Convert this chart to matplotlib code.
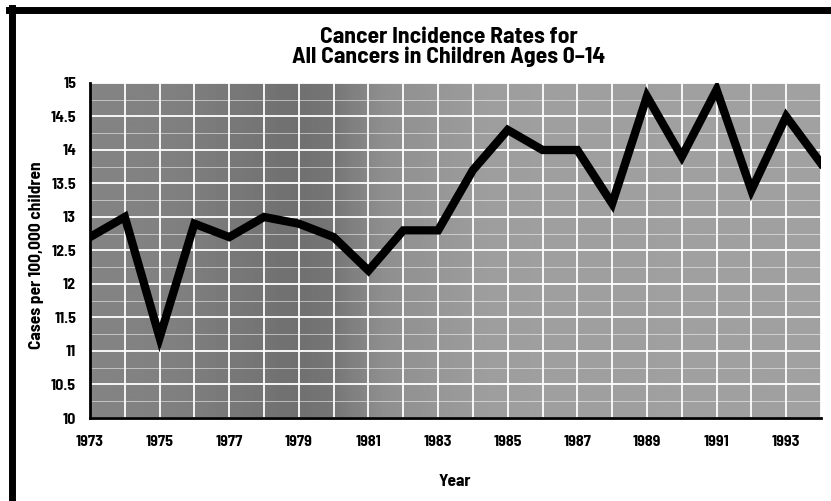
import matplotlib
matplotlib.use("Agg")
import matplotlib.pyplot as plt
import numpy as np
from matplotlib.lines import Line2D

years = [1973, 1974, 1975, 1976, 1977, 1978, 1979, 1980, 1981, 1982, 1983,
         1984, 1985, 1986, 1987, 1988, 1989, 1990, 1991, 1992, 1993, 1994]
rates = [12.7, 13.0, 11.2, 12.9, 12.7, 13.0, 12.9, 12.7, 12.2, 12.8, 12.8,
         13.7, 14.3, 14.0, 14.0, 13.2, 14.8, 13.9, 14.9, 13.4, 14.5, 13.8]
xtick_years = [1973, 1975, 1977, 1979, 1981, 1983, 1985, 1987, 1989, 1991, 1993]
ytick_vals = [10, 10.5, 11, 11.5, 12, 12.5, 13, 13.5, 14, 14.5, 15]
ytick_labels = ["10", "10.5", "11", "11.5", "12", "12.5", "13", "13.5", "14", "14.5", "15"]
title = "Cancer Incidence Rates for\nAll Cancers in Children Ages 0\u201314"
xlabel = "Year"
ylabel = "Cases per 100,000 children"

FONT = ["Barlow Semi Condensed", "DejaVu Sans"]
plt.rcParams['font.family'] = FONT

fig = plt.figure(figsize=(8.31, 5.01), dpi=100)
ax = fig.add_axes([90/831, 83/501, 731/831, 335/501])

# background shading (darker toward the left, darkest around 1979)
grad_x = np.linspace(0, 1, 400)
shade = np.interp(grad_x, [0, 0.12, 0.28, 0.33, 0.40, 0.55, 1.0],
                  [0.52, 0.50, 0.44, 0.46, 0.56, 0.62, 0.63])
img = np.tile(shade, (10, 1))
ax.imshow(img, extent=[1973, 1994, 10, 15], aspect='auto', cmap='gray',
          vmin=0, vmax=1, zorder=0, interpolation='bilinear')

ax.set_xlim(1973, 1994)
ax.set_ylim(10, 15)
ax.set_xticks(xtick_years)
ax.set_xticklabels([str(y) for y in xtick_years])
ax.set_yticks(ytick_vals)
ax.set_yticklabels(ytick_labels)
ax.set_xticks(years, minor=True)
ax.set_yticks(np.arange(10, 15.01, 0.25), minor=True)

ax.grid(True, which='major', color='white', linewidth=1.3, zorder=1)
ax.grid(True, axis='x', which='minor', color='white', linewidth=1.3, zorder=1)
ax.grid(True, axis='y', which='minor', color='white', linewidth=0.6, alpha=0.6, zorder=1)

ax.plot(years, rates, color='black', linewidth=6, solid_joinstyle='miter', zorder=3)

for s in ['top', 'right']:
    ax.spines[s].set_visible(False)
ax.spines['left'].set_linewidth(2)
ax.spines['bottom'].set_linewidth(2)
ax.tick_params(which='both', length=0)
ax.tick_params(axis='x', pad=12)
ax.tick_params(axis='y', pad=10)
for lab in ax.get_xticklabels() + ax.get_yticklabels():
    lab.set_fontweight('bold')
    lab.set_fontsize(11.5)

fig.text(449/831, 1 - 47/501, title, ha='center', va='center', fontsize=17,
         fontweight='bold', linespacing=0.92)
fig.text(455/831, 1 - 482/501, xlabel, ha='center', va='center', fontsize=12.5,
         fontweight='bold')
fig.text(36/831, 1 - 255/501, ylabel, ha='center', va='center', fontsize=12.5,
         fontweight='bold', rotation=90)

# black frame lines (top and left)
fig.add_artist(Line2D([9/831, 1.0], [1 - 10/501, 1 - 10/501], color='black',
                      linewidth=5, transform=fig.transFigure))
fig.add_artist(Line2D([12/831, 12/831], [0, 1 - 8/501], color='black',
                      linewidth=5, transform=fig.transFigure))

fig.savefig("out.png", dpi=100)
